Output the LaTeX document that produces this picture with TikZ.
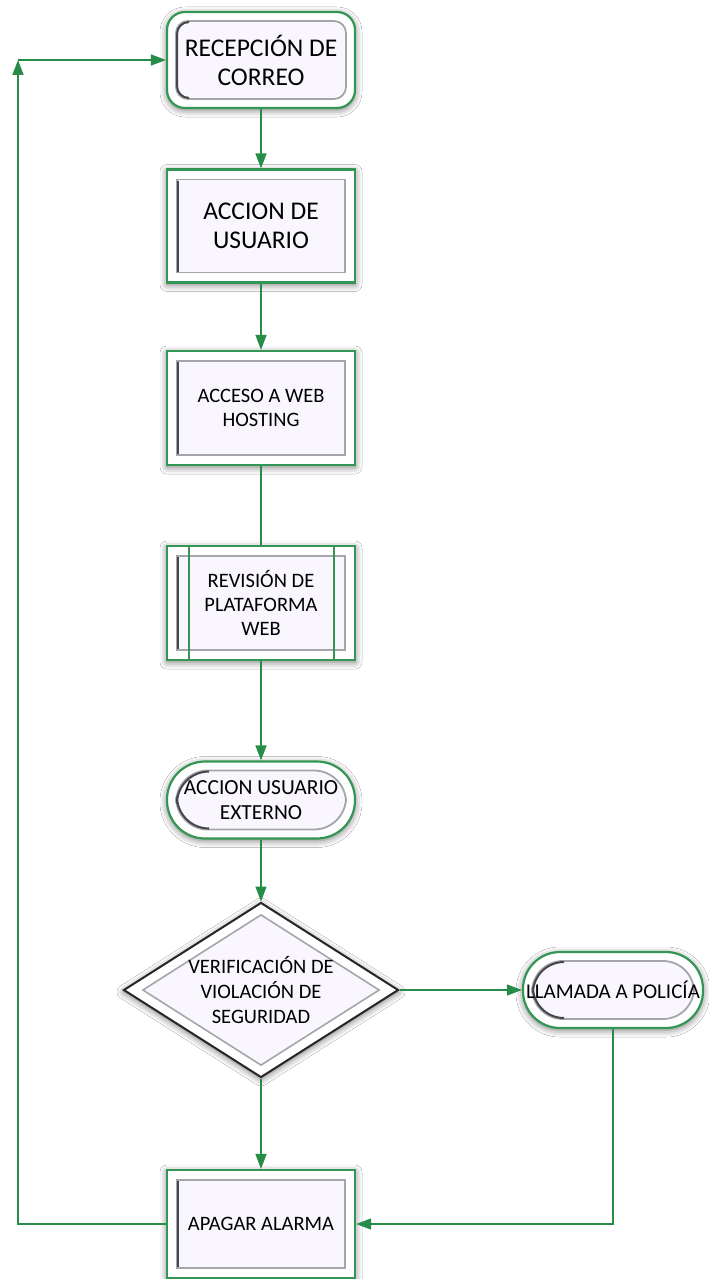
\documentclass[tikz,border=0pt]{standalone}
\usepackage{fontspec}
\setmainfont{Carlito}
\usetikzlibrary{arrows.meta,shapes.geometric,shadows.blur}

\definecolor{framegreen}{RGB}{52,150,84}
\definecolor{linegreen}{RGB}{38,140,72}
\definecolor{facefill}{RGB}{249,247,253}
\definecolor{bevelgray}{RGB}{165,165,172}
\definecolor{beveldark}{RGB}{70,70,75}

\tikzset{
  glow/.style={blur shadow={shadow xshift=0pt, shadow yshift=-2pt,
      shadow blur radius=7pt, shadow opacity=55}},
  boxbase/.style={draw=framegreen, line width=2.2pt, fill=white, glow,
      inner sep=0pt, align=center, text=black,
      minimum width=188pt},
  % square box with a bevelled inner panel
  sqbox/.style={boxbase,
    path picture={
      \fill[facefill, draw=bevelgray, line width=1.8pt]
        ([shift={(10pt,-10pt)}]path picture bounding box.north west) rectangle
        ([shift={(-10pt,10pt)}]path picture bounding box.south east);
      \draw[beveldark, line width=2.6pt]
        ([shift={(11pt,-11pt)}]path picture bounding box.north west) --
        ([shift={(11pt,11pt)}]path picture bounding box.south west);
    }},
  % rounded box with a bevelled inner panel, corner radius #1
  rdbox/.style={boxbase, rounded corners=#1,
    path picture={
      \fill[facefill, draw=bevelgray, line width=1.8pt, rounded corners=#1-6pt]
        ([shift={(9pt,-9pt)}]path picture bounding box.north west) rectangle
        ([shift={(-9pt,9pt)}]path picture bounding box.south east);
      \draw[beveldark, line width=2pt, rounded corners=#1-6pt]
        ([shift={(#1+3pt,-10pt)}]path picture bounding box.north west) --
        ([shift={(10pt,-10pt)}]path picture bounding box.north west) --
        ([shift={(10pt,10pt)}]path picture bounding box.south west) --
        ([shift={(#1+3pt,10pt)}]path picture bounding box.south west);
    }},
  decision/.style={diamond, draw=black!85, line width=2pt, fill=white,
    glow, inner sep=0pt, aspect=1.571, align=center,
    minimum width=275pt, minimum height=175pt,
    path picture={
      \fill[facefill, draw=bevelgray, line width=1.6pt]
        ([yshift=-12pt]path picture bounding box.north) --
        ([xshift=-19pt]path picture bounding box.east) --
        ([yshift=12pt]path picture bounding box.south) --
        ([xshift=19pt]path picture bounding box.west) -- cycle;
    }},
  bigtxt/.style={font=\fontsize{25.5}{29}\selectfont},
  smalltxt/.style={font=\fontsize{20.5}{24}\selectfont},
  flow/.style={draw=linegreen, line width=1.5pt},
  arr/.style={flow, -{Triangle[length=15pt,width=11pt]}},
}

\begin{document}
\begin{tikzpicture}[x=1pt, y=-1pt]
  \useasboundingbox (0,0) rectangle (709,1279);
  \fill[white] (0,0) rectangle (709,1279);

  % process steps
  \node[rdbox=18pt, bigtxt, minimum height=96pt] (recep) at (261,60)
    {RECEPCIÓN DE\\CORREO};
  \node[sqbox, bigtxt, minimum height=113pt] (accion) at (261,226)
    {ACCION DE\\USUARIO};
  \node[sqbox, smalltxt, minimum height=114pt] (acceso) at (261,408)
    {ACCESO A WEB\\HOSTING};
  \node[sqbox, smalltxt, minimum height=114pt] (revision) at (261,603)
    {REVISIÓN DE\\PLATAFORMA\\WEB};
  \draw[framegreen, line width=1.6pt]
    ([xshift=23pt]revision.north west) -- ([xshift=23pt]revision.south west)
    ([xshift=-22pt]revision.north east) -- ([xshift=-22pt]revision.south east);
  \node[rdbox=38pt, font=\fontsize{21.5}{25}\selectfont,
        minimum height=77pt] (externo) at (261,800)
    {ACCION USUARIO\\EXTERNO};
  \node[decision, font=\fontsize{20.5}{25}\selectfont] (verif) at (261,990)
    {VERIFICACIÓN DE\\VIOLACIÓN DE\\SEGURIDAD};
  \node[rdbox=37pt, font=\fontsize{21}{25}\selectfont,
        minimum width=180pt, minimum height=76pt] (llamada) at (613,990)
    {LLAMADA A POLICÍA};
  \node[sqbox, smalltxt, minimum height=108pt] (apagar) at (261,1224)
    {APAGAR ALARMA};

  % connectors
  \draw[arr] (recep) -- (accion);
  \draw[arr] (accion) -- (acceso);
  \draw[flow] (acceso) -- (revision);
  \draw[arr] (revision) -- (externo);
  \draw[arr] (externo) -- (verif);
  \draw[arr] (verif.east) -- (llamada.west);
  \draw[arr] (verif.south) -- (apagar.north);
  \draw[arr] (llamada.south) |- (apagar.east);

  \coordinate (loopcorner) at (18,60);
  \draw[arr] (apagar.west) -| (loopcorner);
  \draw[arr] (loopcorner) -- (recep.west);
\end{tikzpicture}
\end{document}
